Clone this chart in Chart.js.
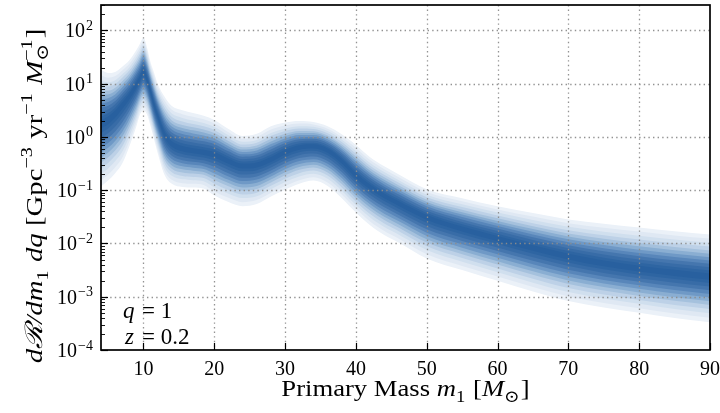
<!DOCTYPE html>
<html>
<head>
<meta charset="utf-8">
<script src="https://cdn.jsdelivr.net/npm/chart.js"></script>
<style>
  html, body { margin: 0; padding: 0; background: #fff; }
</style>
</head>
<body>
<canvas id="chart" width="720" height="413"></canvas>
<script>
// values (rates as log10 of dR/dm1 dq)
const mass = [4, 5, 6, 7, 8, 9, 9.5, 10, 10.5, 11, 11.5, 12, 13, 14, 15.5, 17, 18.5, 20, 22, 24,
              26, 28, 30, 32, 34, 36, 38, 40, 42, 44, 46, 50, 55, 60, 65, 70, 75, 80, 85, 90];
const logMedian = [0.24, 0.32, 0.44, 0.6, 0.77, 0.98, 1.1, 1.22, 1.08, 0.85, 0.6, 0.4, 0.04, -0.13, -0.22, -0.26, -0.29, -0.33, -0.45, -0.54,
                   -0.52, -0.42, -0.28, -0.19, -0.17, -0.25, -0.45, -0.72, -0.93, -1.1, -1.24, -1.5, -1.72, -1.9, -2.08, -2.24, -2.37, -2.47, -2.55, -2.62];
const logUpper = [1.26, 1.2, 1.22, 1.32, 1.44, 1.63, 1.75, 1.86, 1.68, 1.4, 1.2, 1.0, 0.75, 0.58, 0.5, 0.45, 0.4, 0.32, 0.15, 0.02,
                  0.06, 0.2, 0.27, 0.3, 0.28, 0.2, 0.05, -0.15, -0.38, -0.55, -0.7, -0.98, -1.15, -1.3, -1.43, -1.55, -1.63, -1.7, -1.77, -1.83];
const logLower = [-0.93, -0.82, -0.68, -0.5, -0.18, 0.2, 0.42, 0.5, 0.42, 0.2, -0.05, -0.3, -0.72, -0.88, -0.94, -0.95, -0.97, -1.1, -1.22, -1.3,
                  -1.26, -1.12, -0.99, -0.88, -0.82, -0.92, -1.15, -1.42, -1.66, -1.84, -1.98, -2.28, -2.5, -2.7, -2.9, -3.08, -3.2, -3.3, -3.4, -3.48];

const xTicks = [10, 20, 30, 40, 50, 60, 70, 80, 90];
const yDecades = [-4, -3, -2, -1, 0, 1, 2];

// shading layers, fraction of the band half-width, outer -> inner
const levels = [1.0, 0.9, 0.8, 0.71, 0.62, 0.54, 0.46, 0.38, 0.3, 0.22, 0.14, 0.07];
const shades = ['#ebf1f8', '#dfe8f3', '#d0dfee', '#bdd1e7', '#a5c1dd', '#8aaed2', '#6f99c6', '#5886ba',
                '#4576ae', '#386ca7', '#2e65a2', '#28609f'];

const FONT = '"Liberation Serif", "DejaVu Serif", serif';

function bandLine(f, edge) {
  return mass.map((m, j) => ({ x: m, y: Math.pow(10, logMedian[j] + f * (edge[j] - logMedian[j])) }));
}

const datasets = [];
for (let i = levels.length - 1; i >= 0; i--) {
  datasets.push({ data: bandLine(levels[i], logUpper), fill: false, borderWidth: 0 });
  datasets.push({ data: bandLine(levels[i], logLower), fill: '-1', backgroundColor: shades[i], borderWidth: 0 });
}

function fnt(style, size) {
  return (style === 'i' ? 'italic ' : '') + size + 'px ' + FONT;
}

function segWidth(ctx, s, size) {
  if (s.t !== undefined) { ctx.font = fnt(s.f, size); return ctx.measureText(s.t).width; }
  let w = 0;
  ctx.font = fnt('r', size * 0.7);
  if (s.sub) w = Math.max(w, ctx.measureText(s.sub).width);
  if (s.sup) w = Math.max(w, ctx.measureText(s.sup).width);
  return w + 1;
}

// mixed roman/italic text with sub- and superscripts, centred on x, sx = horizontal stretch
function drawRich(ctx, segs, x, y, size, sx) {
  let total = 0;
  segs.forEach(s => total += segWidth(ctx, s, size) * sx);
  let cx = x - total / 2;
  ctx.textAlign = 'left';
  ctx.textBaseline = 'alphabetic';
  segs.forEach(s => {
    const w = segWidth(ctx, s, size);
    ctx.save();
    ctx.translate(cx, y);
    ctx.scale(sx, 1);
    if (s.t !== undefined) {
      ctx.font = fnt(s.f, size);
      ctx.fillText(s.t, 0, 0);
    } else {
      ctx.font = fnt('r', size * 0.7);
      if (s.sub) ctx.fillText(s.sub, 0, size * 0.25);
      if (s.sup) ctx.fillText(s.sup, 0, -size * 0.42);
    }
    ctx.restore();
    cx += w * sx;
  });
}

const frame = {
  id: 'frame',
  afterDatasetsDraw(chart) {
    const ctx = chart.ctx;
    const a = chart.chartArea;
    const xs = chart.scales.x, ys = chart.scales.y;
    ctx.save();
    // dotted grid on top of bands
    ctx.strokeStyle = 'rgba(140,140,140,0.95)';
    ctx.lineWidth = 1.3;
    ctx.setLineDash([1.4, 3.2]);
    xTicks.forEach(v => {
      if (v >= 90) return;
      const px = Math.round(xs.getPixelForValue(v)) + 0.5;
      ctx.beginPath(); ctx.moveTo(px, a.top); ctx.lineTo(px, a.bottom); ctx.stroke();
    });
    yDecades.forEach(d => {
      if (d <= -4) return;
      const py = Math.round(ys.getPixelForValue(Math.pow(10, d))) + 0.5;
      ctx.beginPath(); ctx.moveTo(a.left, py); ctx.lineTo(a.right, py); ctx.stroke();
    });
    ctx.setLineDash([]);
    // inward ticks
    ctx.strokeStyle = '#000';
    ctx.lineWidth = 1.2;
    xTicks.forEach(v => {
      const px = Math.round(xs.getPixelForValue(v)) + 0.5;
      ctx.beginPath(); ctx.moveTo(px, a.bottom); ctx.lineTo(px, a.bottom - 7); ctx.stroke();
    });
    yDecades.forEach(d => {
      const py = Math.round(ys.getPixelForValue(Math.pow(10, d))) + 0.5;
      ctx.lineWidth = 1.2;
      ctx.beginPath(); ctx.moveTo(a.left, py); ctx.lineTo(a.left + 7, py); ctx.stroke();
      ctx.lineWidth = 0.9;
      for (let k = 2; k <= 9; k++) {
        const v = k * Math.pow(10, d);
        if (v > ys.max) break;
        const pm = Math.round(ys.getPixelForValue(v)) + 0.5;
        ctx.beginPath(); ctx.moveTo(a.left, pm); ctx.lineTo(a.left + 4, pm); ctx.stroke();
      }
    });
    // box
    ctx.lineWidth = 1.7;
    ctx.strokeRect(a.left, a.top, a.right - a.left, a.bottom - a.top);
    ctx.restore();
  },
  afterDraw(chart) {
    const ctx = chart.ctx;
    const a = chart.chartArea;
    const ys = chart.scales.y;
    ctx.save();
    ctx.fillStyle = '#000';
    // y tick labels 10^n
    yDecades.forEach(d => {
      const py = ys.getPixelForValue(Math.pow(10, d));
      const ex = (d < 0 ? '\u2212' : '') + Math.abs(d);
      ctx.font = fnt('r', 14);
      const we = ctx.measureText(ex).width;
      ctx.font = fnt('r', 20);
      const wb = ctx.measureText('10').width;
      const right = a.left - 8;
      ctx.textAlign = 'left';
      ctx.textBaseline = 'alphabetic';
      ctx.fillText('10', right - we - wb - 1, py + 7);
      ctx.font = fnt('r', 14);
      ctx.fillText(ex, right - we, py - 0.5);
    });
    // x title
    drawRich(ctx, [
      { t: 'Primary Mass ', f: 'r' }, { t: 'm', f: 'i' }, { sub: '1' },
      { t: ' [', f: 'r' }, { t: 'M', f: 'i' }, { sub: '\u2299' }, { t: ']', f: 'r' }
    ], (a.left + a.right) / 2, 396, 24, 1.11);
    // y title
    ctx.save();
    ctx.translate(42, 196);
    ctx.rotate(-Math.PI / 2);
    drawRich(ctx, [
      { t: 'd\u211B/dm', f: 'i' }, { sub: '1' }, { t: ' dq ', f: 'i' },
      { t: '[Gpc', f: 'r' }, { sup: '\u22123' }, { t: ' yr', f: 'r' }, { sup: '\u22121' },
      { t: ' M', f: 'i' }, { sub: '\u2299', sup: '\u22121' }, { t: ']', f: 'r' }
    ], 0, 0, 24, 1.2);
    ctx.restore();
    // annotation
    ctx.font = fnt('i', 23);
    ctx.textAlign = 'left';
    ctx.fillText('q', 123, 318);
    ctx.fillText('z', 125, 344);
    ctx.font = fnt('r', 23);
    ctx.fillText('= 1', 142, 318);
    ctx.fillText('= 0.2', 142, 344);
    ctx.restore();
  }
};

new Chart(document.getElementById('chart'), {
  type: 'line',
  data: { datasets: datasets },
  options: {
    responsive: false,
    animation: false,
    layout: { padding: { top: 5, right: 10, left: 0, bottom: 0 } },
    plugins: { legend: { display: false }, tooltip: { enabled: false } },
    elements: { point: { radius: 0 }, line: { borderWidth: 0, cubicInterpolationMode: 'monotone' } },
    scales: {
      x: {
        type: 'linear', min: 4, max: 90,
        grid: { display: false, drawTicks: false }, border: { display: false },
        afterBuildTicks: s => { s.ticks = xTicks.map(v => ({ value: v })); },
        afterFit: s => { s.height = 63; s.paddingLeft = 0; s.paddingRight = 0; },
        ticks: { font: { family: FONT, size: 20 }, color: '#000', padding: 8, maxRotation: 0, autoSkip: false }
      },
      y: {
        type: 'logarithmic', min: 1e-4, max: 300,
        grid: { display: false, drawTicks: false }, border: { display: false },
        ticks: { display: false },
        afterFit: s => { s.width = 101; }
      }
    }
  },
  plugins: [frame]
});
</script>
</body>
</html>
